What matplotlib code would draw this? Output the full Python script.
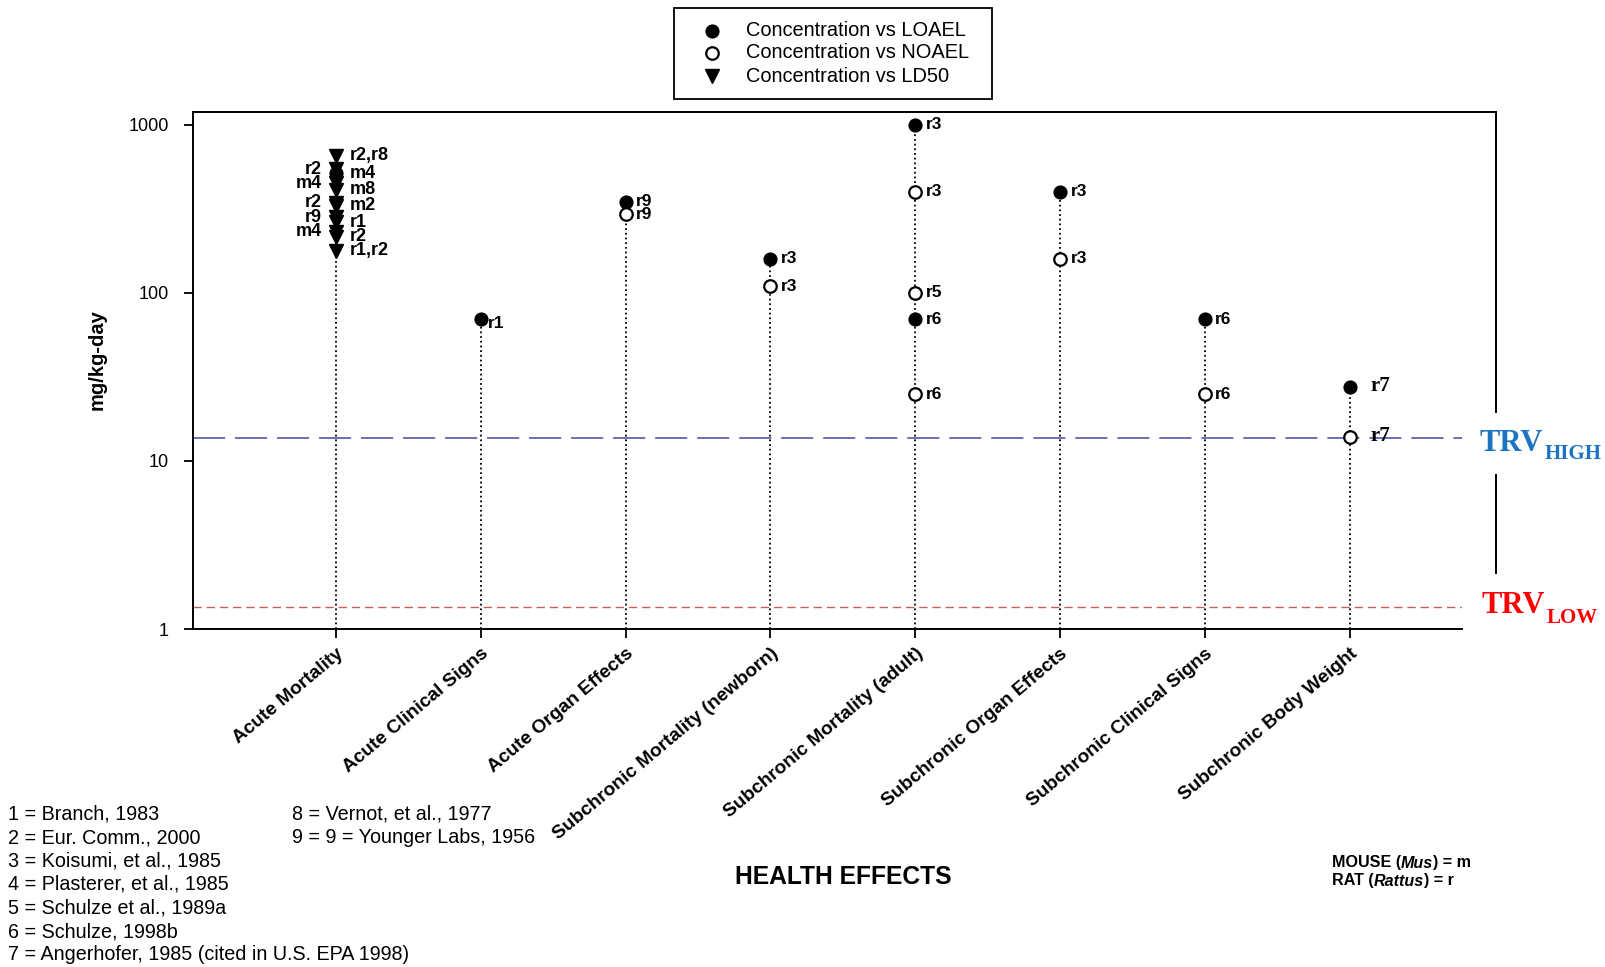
import matplotlib
matplotlib.use("Agg")
import matplotlib.pyplot as plt
from matplotlib.lines import Line2D
from matplotlib.patches import Rectangle

plt.rcParams['font.family'] = ['Liberation Sans', 'DejaVu Sans']

# ---------------- data ----------------
categories = ['Acute Mortality', 'Acute Clinical Signs', 'Acute Organ Effects',
              'Subchronic Mortality (newborn)', 'Subchronic Mortality (adult)',
              'Subchronic Organ Effects', 'Subchronic Clinical Signs',
              'Subchronic Body Weight']

# Acute mortality cluster (LD50 triangles + one LOAEL)
am_vals = [656, 547, 517, 449, 413, 344, 330, 282, 264, 232, 216, 178]
am_types = ['LD50', 'LD50', 'LOAEL', 'LD50', 'LD50', 'LD50', 'LD50', 'LD50',
            'LD50', 'LD50', 'LD50', 'LD50']
am_refs = ['r2,r8', 'r2', 'm4', 'm4', 'm8', 'r2', 'm2', 'r9', 'r1', 'm4', 'r2', 'r1,r2']
am_side = ['right', 'left', 'right', 'left', 'right', 'left', 'right', 'left',
           'right', 'left', 'right', 'right']

# Other endpoints
pt_cat = [1, 2, 2, 3, 3, 4, 4, 4, 4, 4, 5, 5, 6, 6, 7, 7]
pt_val = [70, 350, 295, 160, 110, 1000, 400, 100, 70, 25, 400, 160, 70, 25, 27.5, 13.8]
pt_type = ['LOAEL', 'LOAEL', 'NOAEL', 'LOAEL', 'NOAEL', 'LOAEL', 'NOAEL', 'NOAEL',
           'LOAEL', 'NOAEL', 'LOAEL', 'NOAEL', 'LOAEL', 'NOAEL', 'LOAEL', 'NOAEL']
pt_ref = ['r1', 'r9', 'r9', 'r3', 'r3', 'r3', 'r3', 'r5', 'r6', 'r6', 'r3', 'r3',
          'r6', 'r6', 'r7', 'r7']

trv_high = 13.7
trv_low = 1.35

yticks = [1, 10, 100, 1000]
ytick_labels = ['1', '10', '100', '1000']

legend_labels = ['Concentration vs LOAEL', 'Concentration vs NOAEL', 'Concentration vs LD50']

references_col1 = ['1 = Branch, 1983', '2 = Eur. Comm., 2000', '3 = Koisumi, et al., 1985',
                   '4 = Plasterer, et al., 1985', '5 = Schulze et al., 1989a',
                   '6 = Schulze, 1998b', '7 = Angerhofer, 1985 (cited in U.S. EPA 1998)']
references_col2 = ['8 = Vernot, et al., 1977', '9 = 9 = Younger Labs, 1956']

# ---------------- figure ----------------
W, H = 1606, 967
fig = plt.figure(figsize=(W / 100, H / 100), dpi=100)


def fx(x):
    return x / W


def fy(y):
    return 1 - y / H


ax_l, ax_r, ax_t, ax_b = 193, 1462, 112, 629
ax = fig.add_axes([fx(ax_l), fy(ax_b), fx(ax_r) - fx(ax_l), fy(ax_t) - fy(ax_b)])
ax.set_yscale('log')
ax.set_ylim(1, 1195)
ax.set_xlim(-0.988, 7.776)

style = {
    'LOAEL': dict(marker='o', mfc='black', mec='black', ms=9, mew=1.2),
    'NOAEL': dict(marker='o', mfc='white', mec='black', ms=9, mew=1.6),
    'LD50': dict(marker='v', mfc='black', mec='black', ms=10, mew=1.0),
}

# stems
stem_top = {0: max(am_vals)}
for c, v in zip(pt_cat, pt_val):
    stem_top[c] = max(stem_top.get(c, 0), v)
for c, top in stem_top.items():
    ax.plot([c, c], [1, top], color='black', lw=1.3, ls=(0, (1, 1.6)), zorder=1)

# TRV lines
ax.axhline(trv_high, color='#4646a2', lw=1.1, dashes=(21, 6.5), zorder=0.5)
ax.axhline(trv_low, color='#cf5c5c', lw=1.0, dashes=(6, 3.5), zorder=0.5)

# acute mortality cluster
for v, t, r, s in zip(am_vals, am_types, am_refs, am_side):
    ax.plot([0], [v], linestyle='none', zorder=3, **style[t])
    dx = 10 if s == 'right' else -10
    ax.annotate(r, (0, v), xytext=(dx, 0), textcoords='offset points',
                ha='left' if s == 'right' else 'right', va='center',
                fontsize=13, fontweight='bold')

# other points
for c, v, t, r in zip(pt_cat, pt_val, pt_type, pt_ref):
    ax.plot([c], [v], linestyle='none', zorder=3, **style[t])
    if c == 7:
        ax.annotate(r, (c, v), xytext=(15, 1), textcoords='offset points',
                    ha='left', va='center', fontsize=15, fontweight='bold',
                    family='Liberation Serif')
    else:
        dy = 0
        dxp = 7.5
        if c == 1:
            dy, dxp = -3, 5
        ax.annotate(r, (c, v), xytext=(dxp, dy), textcoords='offset points',
                    ha='left', va='center', fontsize=12.5, fontweight='bold')

# axes styling
ax.set_xticks(range(len(categories)))
ax.set_xticklabels(categories, rotation=40, ha='right', rotation_mode='anchor',
                   fontsize=13.8, fontweight='bold')
ax.set_yticks(yticks)
ax.set_yticklabels(ytick_labels, fontsize=13)
ax.yaxis.set_minor_locator(matplotlib.ticker.NullLocator())
ax.tick_params(axis='both', direction='out', length=6.5, width=1.3)
ax.tick_params(axis='y', pad=11)
ax.tick_params(axis='x', pad=5)
for sp in ['top', 'right']:
    ax.spines[sp].set_visible(False)
for sp in ['left', 'bottom']:
    ax.spines[sp].set_linewidth(1.4)

# extended frame (top and broken right edge)
fig.add_artist(Line2D([fx(ax_l), fx(1496)], [fy(ax_t), fy(ax_t)],
                      transform=fig.transFigure, color='black', lw=1.4))
fig.add_artist(Line2D([fx(1496), fx(1496)], [fy(ax_t), fy(412)],
                      transform=fig.transFigure, color='black', lw=1.4))
fig.add_artist(Line2D([fx(1496), fx(1496)], [fy(475), fy(573)],
                      transform=fig.transFigure, color='black', lw=1.4))

# axis labels
fig.text(fx(97), fy(360), 'mg/kg-day', rotation=90, ha='center', va='center',
         fontsize=14.5, fontweight='bold')
fig.text(fx(843), fy(877), 'HEALTH EFFECTS', ha='center', va='center',
         fontsize=17.7, fontweight='bold')

# legend (manual box)
fig.add_artist(Rectangle((fx(674), fy(99)), fx(992) - fx(674), fy(8) - fy(99),
                         transform=fig.transFigure, fill=False, ec='black', lw=1.3))
leg_types = ['LOAEL', 'NOAEL', 'LD50']
leg_y = [31, 53, 76]
for t, lab, yy in zip(leg_types, legend_labels, leg_y):
    st = dict(style[t])
    st['ms'] = 9 if t != 'LD50' else 9.5
    fig.add_artist(Line2D([fx(712)], [fy(yy)], transform=fig.transFigure,
                          linestyle='none', **st))
    fig.text(fx(746), fy(yy), lab, ha='left', va='center', fontsize=14.4)

# TRV labels
fig.canvas.draw()
renderer = fig.canvas.get_renderer()


def two_part(x, y_base, main, sub, color, sub_drop):
    t1 = fig.text(fx(x), fy(y_base), main, ha='left', va='baseline', fontsize=22,
                  fontweight='bold', family='Liberation Serif', color=color)
    bb = t1.get_window_extent(renderer)
    fig.text(bb.x1 / W + 0.0006, fy(y_base + sub_drop), sub, ha='left', va='baseline',
             fontsize=15, fontweight='bold', family='Liberation Serif', color=color)


two_part(1480, 451, 'TRV', 'HIGH', '#1b74c2', 8)
two_part(1482, 613, 'TRV', 'LOW', '#ff0000', 10)

# references
for i, s in enumerate(references_col1):
    fig.text(fx(8), fy(814 + i * 23.5), s, ha='left', va='center', fontsize=14.2)
for i, s in enumerate(references_col2):
    fig.text(fx(292), fy(814 + i * 23.5), s, ha='left', va='center', fontsize=14.2)


# species note (mixed bold / bold-italic)
def mixed(x, y, parts):
    cur = fx(x)
    for txt, it in parts:
        t = fig.text(cur, fy(y), txt, ha='left', va='center', fontsize=11.6,
                     fontweight='bold', fontstyle='italic' if it else 'normal')
        bb = t.get_window_extent(renderer)
        cur = bb.x1 / W


mixed(1332, 863, [('MOUSE (', False), ('Mus', True), (') = m', False)])
mixed(1332, 881, [('RAT (', False), ('Rattus', True), (') = r', False)])

fig.savefig('out.png', dpi=100)
